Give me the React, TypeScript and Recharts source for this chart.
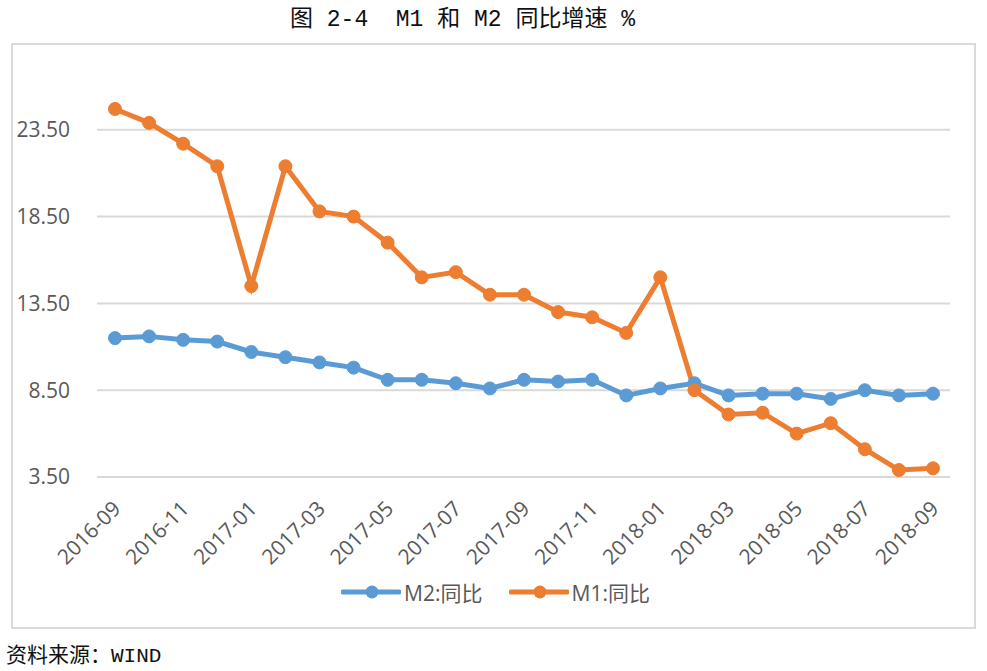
import React from "react";
import { LineChart, Line, XAxis, YAxis, CartesianGrid, Legend } from "recharts";

const months = [
  "2016-09", "2016-10", "2016-11", "2016-12", "2017-01", "2017-02", "2017-03",
  "2017-04", "2017-05", "2017-06", "2017-07", "2017-08", "2017-09", "2017-10",
  "2017-11", "2017-12", "2018-01", "2018-02", "2018-03", "2018-04", "2018-05",
  "2018-06", "2018-07", "2018-08", "2018-09",
];
const m2 = [
  11.5, 11.6, 11.4, 11.3, 10.7, 10.4, 10.1, 9.8, 9.1, 9.1, 8.9, 8.6, 9.1,
  9.0, 9.1, 8.2, 8.6, 8.9, 8.2, 8.3, 8.3, 8.0, 8.5, 8.2, 8.3,
];
const m1 = [
  24.7, 23.9, 22.7, 21.4, 14.5, 21.4, 18.8, 18.5, 17.0, 15.0, 15.3, 14.0, 14.0,
  13.0, 12.7, 11.8, 15.0, 8.5, 7.1, 7.2, 6.0, 6.6, 5.1, 3.9, 4.0,
];
const yTicks = [3.5, 8.5, 13.5, 18.5, 23.5];
const yDomain = [3.5, 28.5];
const seriesNames = { m2: "M2:同比", m1: "M1:同比" };
const legendOrder = [seriesNames.m2, seriesNames.m1];
const titleText = "图 2-4  M1 和 M2 同比增速 %";
const sourceText = "资料来源：WIND";

const BLUE = "#5b9bd5";
const ORANGE = "#ed7d31";
const TEXT = "#595959";
const FONT = "'Open Sans', 'Noto Sans CJK SC', sans-serif";

const data = months.map((m, i) => ({ month: m, m2: m2[i], m1: m1[i] }));

const XTick = (props: any) => {
  const { x, y, payload } = props;
  return (
    <g transform={`translate(${x + 7},${y + 33})`}>
      <text
        x={0}
        y={0}
        textAnchor="end"
        transform="rotate(-45)"
        fill={TEXT}
        fontSize={21}
        fontFamily={FONT}
      >
        {payload.value}
      </text>
    </g>
  );
};

const LegendContent = (props: any) => {
  const payload = [...(props.payload || [])].sort(
    (a: any, b: any) => legendOrder.indexOf(a.value) - legendOrder.indexOf(b.value)
  );
  return (
    <div
      style={{
        display: "flex",
        justifyContent: "center",
        alignItems: "center",
        gap: 26,
        fontFamily: FONT,
        fontSize: 21,
        color: TEXT,
        paddingLeft: 4,
      }}
    >
      {payload.map((p: any) => (
        <div key={p.value} style={{ display: "flex", alignItems: "center" }}>
          <svg width={60} height={20} style={{ marginRight: 3 }}>
            <line x1={2} y1={10} x2={58} y2={10} stroke={p.color} strokeWidth={5} strokeLinecap="round" />
            <circle cx={31} cy={10} r={6.5} fill={p.color} />
          </svg>
          <span>{p.value}</span>
        </div>
      ))}
    </div>
  );
};

export default function App() {
  return (
    <div
      style={{
        position: "absolute",
        left: 0,
        top: 0,
        width: 987,
        height: 671,
        background: "#ffffff",
        overflow: "hidden",
      }}
    >
      <div
        style={{
          position: "absolute",
          left: 0,
          top: 4,
          width: 925,
          textAlign: "center",
          fontFamily: "'Liberation Mono', 'Noto Sans CJK SC', monospace",
          fontSize: 23,
          color: "#111",
          whiteSpace: "pre",
          lineHeight: "32px",
        }}
      >
        {titleText}
      </div>
      <div
        style={{
          position: "absolute",
          left: 11,
          top: 43,
          width: 961,
          height: 582,
          border: "2px solid #d9d9d9",
        }}
      />
      <div style={{ position: "absolute", left: 0, top: 0 }}>
        <LineChart
          width={987}
          height={671}
          data={data}
          margin={{ top: 43, right: 37, bottom: 94, left: 12 }}
        >
          <CartesianGrid
            vertical={false}
            stroke="#d9d9d9"
            strokeWidth={2}
            horizontalValues={yTicks}
          />
          <XAxis
            dataKey="month"
            interval={1}
            axisLine={false}
            tickLine={false}
            tickSize={0}
            tickMargin={0}
            height={100}
            padding={{ left: 18, right: 17 }}
            tick={<XTick />}
          />
          <YAxis
            type="number"
            domain={yDomain}
            ticks={yTicks}
            tickFormatter={(v: number) => v.toFixed(2)}
            axisLine={false}
            tickLine={false}
            tickSize={0}
            tickMargin={27}
            width={85}
            tick={{ fill: TEXT, fontSize: 21, fontFamily: FONT }}
          />
          <Legend
            layout="horizontal"
            verticalAlign="middle"
            align="center"
            content={<LegendContent />}
            wrapperStyle={{ top: 577, left: 0, width: 987, height: 28 }}
          />
          <Line
            type="linear"
            dataKey="m2"
            name={seriesNames.m2}
            stroke={BLUE}
            strokeWidth={5}
            dot={{ r: 6.5, fill: BLUE, stroke: BLUE, strokeWidth: 1 }}
            activeDot={false}
            isAnimationActive={false}
          />
          <Line
            type="linear"
            dataKey="m1"
            name={seriesNames.m1}
            stroke={ORANGE}
            strokeWidth={5}
            dot={{ r: 6.5, fill: ORANGE, stroke: ORANGE, strokeWidth: 1 }}
            activeDot={false}
            isAnimationActive={false}
          />
        </LineChart>
      </div>
      <div
        style={{
          position: "absolute",
          left: 6,
          top: 638,
          fontFamily: "'Liberation Mono', 'Noto Sans CJK SC', monospace",
          fontSize: 21,
          color: "#111",
          whiteSpace: "pre",
        }}
      >
        {sourceText}
      </div>
    </div>
  );
}
